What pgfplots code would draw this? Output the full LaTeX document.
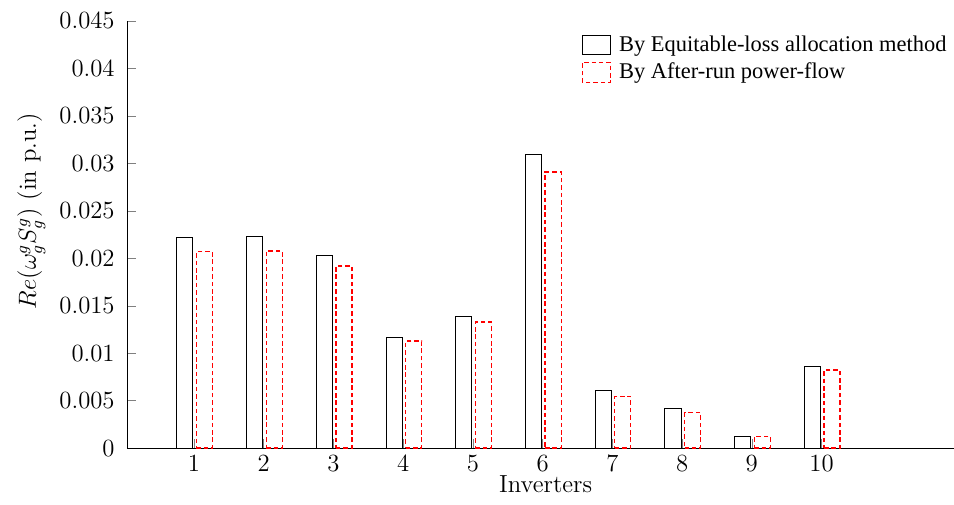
\documentclass[border=0pt]{standalone}
\usepackage{fontspec}
\usepackage{pgfplots}
\pgfplotsset{compat=1.18}
\newfontfamily\timesfont{Liberation Serif}
\pgfplotstableread{
x eq run
1 0.02217 0.02069
2 0.02227 0.02076
3 0.02034 0.01918
4 0.01170 0.01128
5 0.01391 0.01328
6 0.03091 0.02909
7 0.00604 0.00545
8 0.00422 0.00372
9 0.00123 0.00123
10 0.00857 0.00822
}\datatable
\begin{document}
\begin{tikzpicture}
\useasboundingbox (-61.65pt,-27.2pt) rectangle (401.4pt,217.5pt);
\begin{axis}[
  at={(0,0)}, anchor=south west,
  scale only axis,
  width=401.4pt, height=207.3pt,
  xmin=0.04, xmax=11.9,
  ymin=0, ymax=0.045,
  axis lines*=left,
  tick align=inside,
  xtick={1,...,10},
  ytick={0,0.005,...,0.045},
  scaled y ticks=false,
  tick label style={font=\large},
  yticklabel style={/pgf/number format/fixed,/pgf/number format/precision=3, xshift=-2.5pt},
  xlabel={\large Inverters},
  ylabel={\large $Re(\omega_g^g S_g^g)$ (in p.u.)},
  xlabel style={at={(axis description cs:0.5,0)}, anchor=north, yshift=-10pt, xshift=2.5pt},
  ylabel style={at={(ticklabel cs:0.555)}},
  legend style={draw=none, fill=none, at={(0.542,0.985)}, anchor=north west,
    font=\timesfont\fontsize{10.9}{12.4}\selectfont, row sep=0pt},
  legend cell align=left,
]
\addplot[ybar, bar width=7.8pt, bar shift=-4.4pt, draw=black, fill=none, line width=0.5pt,
  legend image code/.code={\draw[black, line width=0.5pt] (0pt,-4.6pt) rectangle (13.5pt,4.6pt);
    \path (15.5pt,0pt);}]
  table[x=x, y=eq] {\datatable};
\addlegendentry{By Equitable-loss allocation method}
\addplot[ybar, bar width=7.8pt, bar shift=5.1pt, draw=red, fill=none, dash pattern=on 2.2pt off 1.4pt, line width=0.6pt,
  legend image code/.code={\draw[red, dash pattern=on 2.2pt off 1.4pt, line width=0.6pt] (0pt,-5pt) rectangle (13.5pt,5pt);
    \path (15.5pt,0pt);}]
  table[x=x, y=run] {\datatable};
\addlegendentry{By After-run power-flow}
\end{axis}
\end{tikzpicture}
\end{document}
